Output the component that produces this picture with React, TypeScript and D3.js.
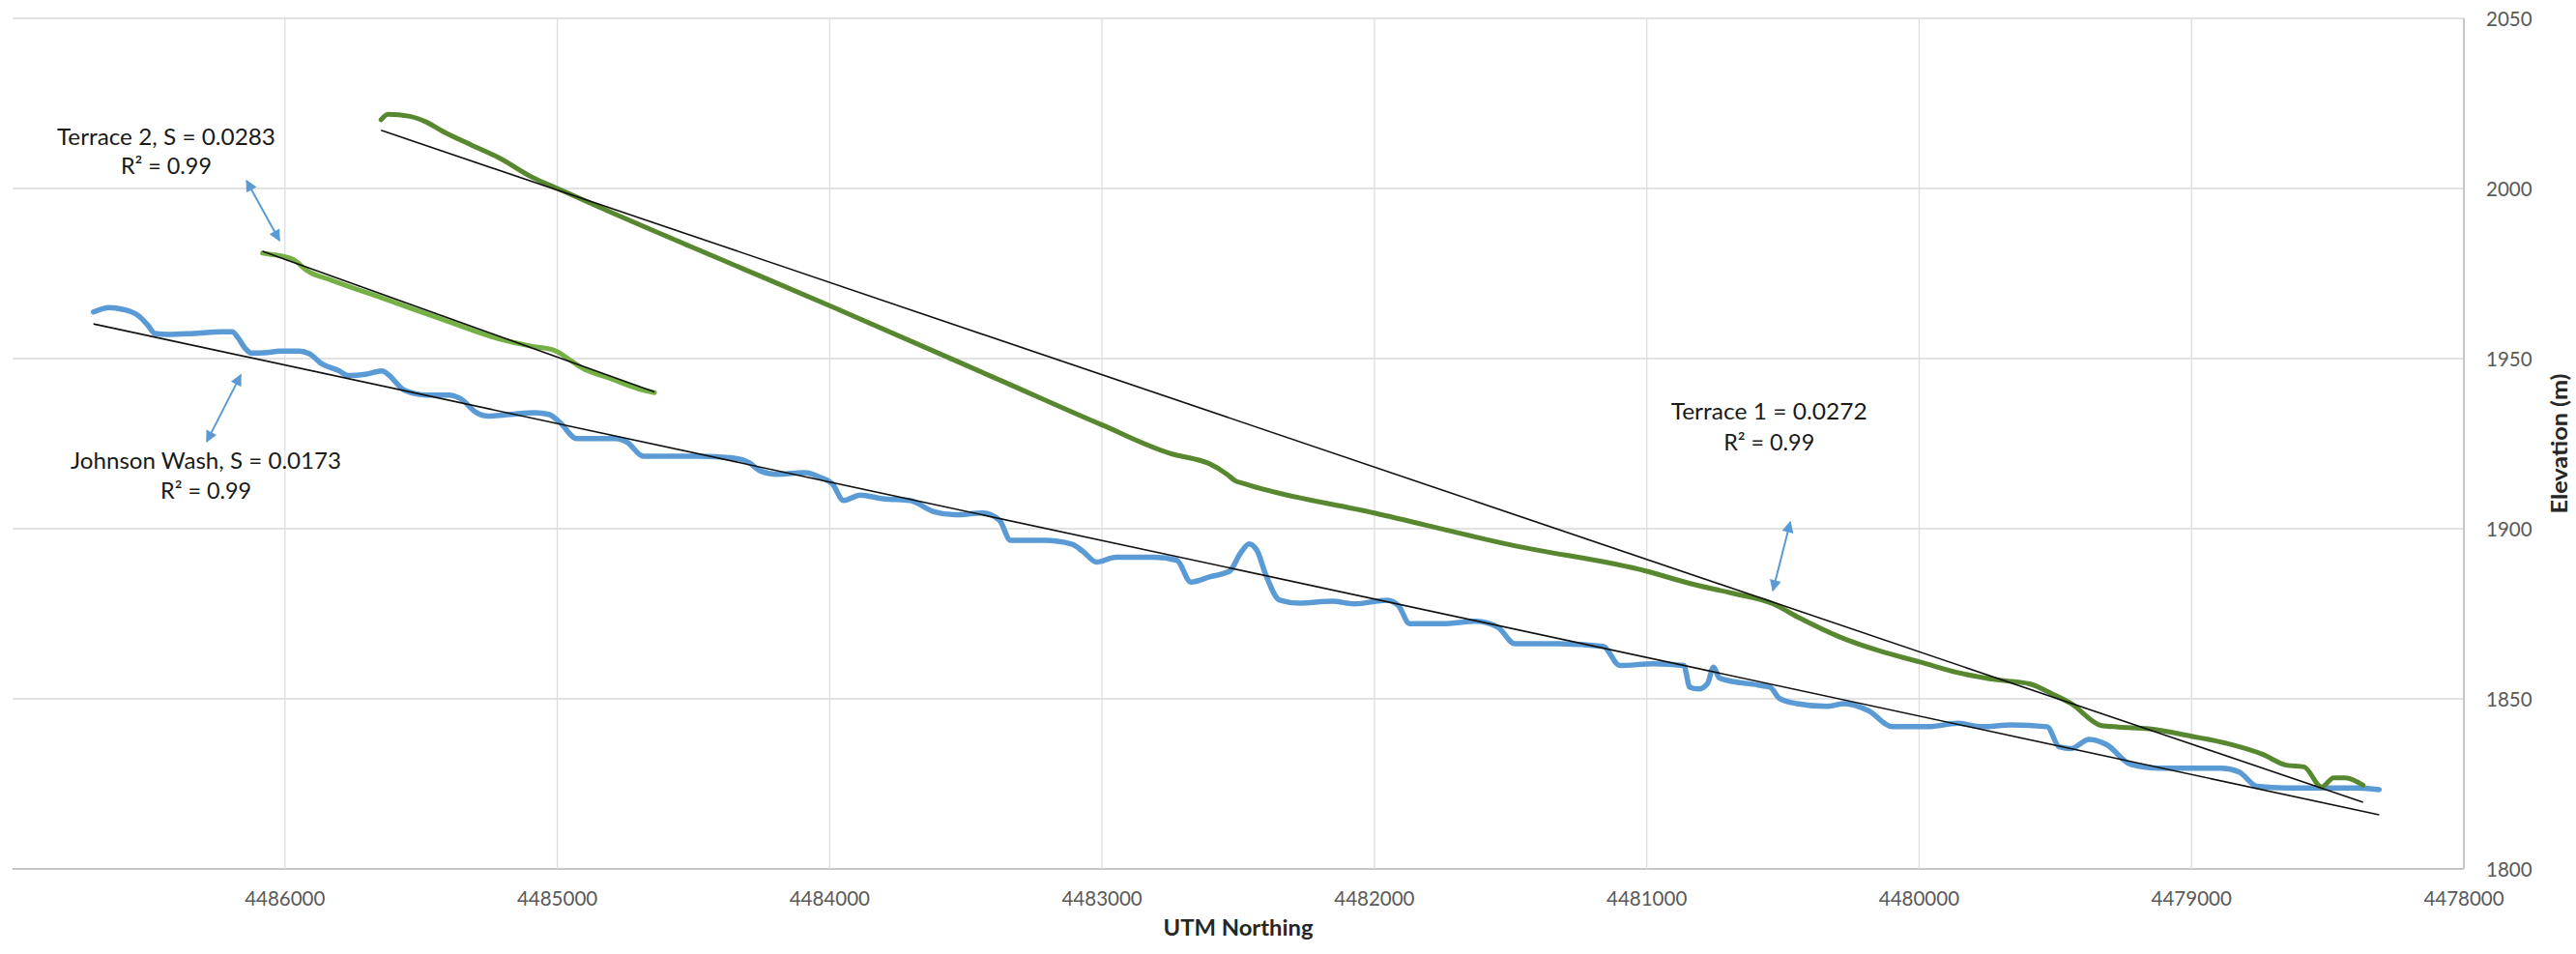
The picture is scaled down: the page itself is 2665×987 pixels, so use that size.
import React from "react";
import * as d3 from "d3";

const W = 2665;
const H = 987;
const M = { left: 13, right: 2549, top: 19, bottom: 899 };

const xDomain = [4487000, 4478000];
const yDomain = [1800, 2050];
const xTicks = [4486000, 4485000, 4484000, 4483000, 4482000, 4481000, 4480000, 4479000, 4478000];
const yTicks = [1800, 1850, 1900, 1950, 2000, 2050];

// Johnson Wash profile
const johnsonX = [
  4486703, 4486644, 4486597, 4486538, 4486502, 4486478, 4486431, 4486336, 4486230, 4486194,
  4486171, 4486147, 4486123, 4486076, 4486017, 4485946, 4485910, 4485863, 4485804, 4485765,
  4485704, 4485643, 4485622, 4485561, 4485480, 4485398, 4485357, 4485296, 4485255, 4485173,
  4485082, 4485031, 4484990, 4484929, 4484786, 4484745, 4484684, 4484602, 4484480, 4484357,
  4484296, 4484255, 4484194, 4484092, 4484031, 4483990, 4483949, 4483888, 4483804, 4483705,
  4483621, 4483541, 4483438, 4483377, 4483336, 4483214, 4483112, 4483071, 4483020, 4482949,
  4482807, 4482725, 4482674, 4482603, 4482532, 4482491, 4482460, 4482430, 4482399, 4482348,
  4482277, 4482155, 4482073, 4481953, 4481912, 4481871, 4481749, 4481627, 4481546, 4481485,
  4481322, 4481160, 4481099, 4480976, 4480864, 4480842, 4480810, 4480777, 4480755, 4480733,
  4480580, 4480547, 4480514, 4480449, 4480339, 4480274, 4480186, 4480098, 4479967, 4479858,
  4479770, 4479661, 4479530, 4479486, 4479442, 4479376, 4479311, 4479223, 4479114, 4479000,
  4478891, 4478825, 4478760, 4478650, 4478519, 4478388, 4478311,
];
const johnsonY = [
  1963.7, 1965.0, 1964.5, 1962.6, 1959.7, 1957.4, 1957.1, 1957.4, 1957.9, 1957.9,
  1956.0, 1953.1, 1951.6, 1951.7, 1952.2, 1952.2, 1951.4, 1948.4, 1946.5, 1945.0,
  1945.4, 1946.4, 1945.4, 1940.7, 1939.3, 1939.3, 1938.3, 1934.1, 1933.1, 1933.6,
  1934.1, 1933.6, 1931.2, 1926.5, 1926.5, 1925.5, 1921.3, 1921.3, 1921.3, 1920.8,
  1919.4, 1917.0, 1916.0, 1916.5, 1915.0, 1913.2, 1908.3, 1909.9, 1908.8, 1908.3,
  1905.1, 1904.1, 1904.6, 1902.5, 1896.6, 1896.6, 1895.5, 1893.4, 1890.2, 1891.6,
  1891.6, 1890.7, 1884.3, 1885.9, 1887.5, 1892.9, 1895.5, 1893.4, 1886.5, 1879.0,
  1878.1, 1878.7, 1877.9, 1879.0, 1877.4, 1872.1, 1872.1, 1872.8, 1871.0, 1866.2,
  1866.2, 1865.4, 1859.8, 1860.3, 1859.8, 1853.4, 1852.9, 1854.5, 1859.3, 1856.1,
  1853.9, 1853.4, 1850.2, 1848.6, 1847.8, 1848.6, 1846.5, 1841.8, 1841.8, 1842.8,
  1841.8, 1842.3, 1841.8, 1835.9, 1835.4, 1838.1, 1836.5, 1830.7, 1829.6, 1829.6,
  1829.6, 1828.5, 1824.3, 1823.8, 1823.8, 1823.8, 1823.3,
];

// Terrace 1 profile
const terrace1X = [
  4485647, 4485622, 4485541, 4485480, 4485418, 4485316, 4485214, 4485092, 4485000, 4484806,
  4484398, 4483990, 4483356, 4483000, 4482725, 4482660, 4482603, 4482541, 4482511, 4482481,
  4482000, 4481485, 4481000, 4480837, 4480689, 4480536, 4480438, 4480295, 4480142, 4480000,
  4479858, 4479705, 4479595, 4479508, 4479442, 4479333, 4479267, 4479155, 4479000, 4478870,
  4478739, 4478652, 4478587, 4478522, 4478478, 4478435, 4478370,
];
const terrace1Y = [
  2020.2, 2021.8, 2021.2, 2019.5, 2016.7, 2012.8, 2009.0, 2003.3, 2000.0, 1993.1,
  1979.1, 1965.2, 1943.0, 1930.5, 1921.6, 1920.5, 1919.0, 1916.0, 1914.1, 1913.3,
  1904.6, 1895.0, 1887.5, 1883.8, 1881.1, 1877.9, 1873.7, 1868.3, 1864.0, 1860.9,
  1857.7, 1855.5, 1854.4, 1851.3, 1848.6, 1842.2, 1841.7, 1841.2, 1839.0, 1836.9,
  1833.7, 1830.5, 1830.0, 1824.1, 1826.8, 1826.8, 1824.6,
];

// Terrace 2 profile
const terrace2X = [
  4486082, 4486051, 4486010, 4485969, 4485918, 4485827, 4485622, 4485418, 4485214, 4485092,
  4485010, 4484950, 4484908, 4484806, 4484704, 4484643,
];
const terrace2Y = [
  1981.0, 1980.6, 1980.1, 1979.1, 1975.8, 1973.0, 1967.2, 1961.4, 1955.8, 1953.6,
  1952.4, 1949.4, 1947.2, 1944.2, 1941.2, 1940.0,
];

// Linear fits
const johnsonTrendX = [4486703, 4478311];
const johnsonTrendY = [1960.2, 1815.9];
const terrace1TrendX = [4485647, 4478370];
const terrace1TrendY = [2017.1, 1819.6];
const terrace2TrendX = [4486082, 4484643];
const terrace2TrendY = [1981.5, 1940.2];

// Annotations (data coordinates)
const labelLines = [
  { x: 4486436, y: [2015.1, 2006.5], text: ["Terrace 2, S = 0.0283", "R\u00B2 = 0.99"], len: [226, 94] },
  { x: 4486290, y: [1920.0, 1911.2], text: ["Johnson Wash, S = 0.0173", "R\u00B2 = 0.99"], len: [280, 94] },
  { x: 4480551, y: [1934.4, 1925.3], text: ["Terrace 1 = 0.0272", "R\u00B2 = 0.99"], len: [203, 94] },
];
const arrowsData = [
  { x1: 4486141, y1: 2002.3, x2: 4486020, y2: 1984.7 },
  { x1: 4486162, y1: 1945.2, x2: 4486287, y2: 1925.6 },
  { x1: 4480473, y1: 1902.0, x2: 4480537, y2: 1881.8 },
];

const BLUE = "#5b9bd5";

export default function App() {
  const x = d3.scaleLinear().domain(xDomain).range([M.left, M.right]);
  const y = d3.scaleLinear().domain(yDomain).range([M.bottom, M.top]);

  const toPts = (xs: number[], ys: number[]) => xs.map((v, i) => [v, ys[i]] as [number, number]);
  const smooth = d3
    .line<[number, number]>()
    .x((d) => x(d[0]))
    .y((d) => y(d[1]))
    .curve(d3.curveMonotoneX);
  const straight = d3
    .line<[number, number]>()
    .x((d) => x(d[0]))
    .y((d) => y(d[1]));

  const tickFont = "Lato, 'Open Sans', sans-serif";

  return (
    <svg
      width={W}
      height={H}
      viewBox={`0 0 ${W} ${H}`}
      style={{ position: "absolute", left: 0, top: 0, display: "block", background: "#fff" }}
    >
      <defs>
        <marker
          id="ah"
          viewBox="0 0 10 10"
          refX="9"
          refY="5"
          markerWidth="14"
          markerHeight="12"
          markerUnits="userSpaceOnUse"
          orient="auto-start-reverse"
        >
          <path d="M0,0 L10,5 L0,10 z" fill={BLUE} />
        </marker>
      </defs>
      <rect x={0} y={0} width={W} height={H} fill="#fff" />

      {/* horizontal gridlines */}
      {yTicks.map((t) => (
        <line
          key={"hy" + t}
          x1={M.left}
          x2={M.right}
          y1={y(t)}
          y2={y(t)}
          stroke={t === 1800 ? "#c6c6c6" : "#d9d9d9"}
          strokeWidth={t === 1800 ? 2 : 1.5}
        />
      ))}
      {/* vertical gridlines */}
      {xTicks.map((t) => (
        <line
          key={"vx" + t}
          x1={x(t)}
          x2={x(t)}
          y1={M.top}
          y2={M.bottom}
          stroke={t === 4478000 ? "#c6c6c6" : "#dedede"}
          strokeWidth={t === 4478000 ? 2 : 1.3}
        />
      ))}

      {/* y tick labels */}
      {yTicks.map((t) => (
        <text
          key={"yl" + t}
          x={M.right + 23}
          y={y(t) + 7.5}
          fontFamily={tickFont}
          fontSize={20.5}
          fill="#595959"
        >
          {t}
        </text>
      ))}
      {/* x tick labels */}
      {xTicks.map((t) => (
        <text
          key={"xl" + t}
          x={x(t)}
          y={937}
          textAnchor="middle"
          fontFamily={tickFont}
          fontSize={20.5}
          fill="#595959"
        >
          {t}
        </text>
      ))}

      {/* axis titles */}
      <text
        x={(M.left + M.right) / 2}
        y={968}
        textAnchor="middle"
        fontFamily={tickFont}
        fontWeight="bold"
        fontSize={22}
        textLength={155}
        lengthAdjust="spacingAndGlyphs"
        fill="#262626"
      >
        UTM Northing
      </text>
      <text
        transform={`translate(2656, ${(M.top + M.bottom) / 2}) rotate(-90)`}
        textAnchor="middle"
        fontFamily={tickFont}
        fontWeight="bold"
        fontSize={22}
        textLength={145}
        lengthAdjust="spacingAndGlyphs"
        fill="#262626"
      >
        Elevation (m)
      </text>

      {/* series */}
      <path d={smooth(toPts(johnsonX, johnsonY)) || ""} fill="none" stroke={BLUE} strokeWidth={5.5} strokeLinejoin="round" strokeLinecap="round" />
      <path d={smooth(toPts(terrace2X, terrace2Y)) || ""} fill="none" stroke="#74b044" strokeWidth={5} strokeLinejoin="round" strokeLinecap="round" />
      <path d={smooth(toPts(terrace1X, terrace1Y)) || ""} fill="none" stroke="#57872e" strokeWidth={5} strokeLinejoin="round" strokeLinecap="round" />

      {/* trend lines */}
      <path d={straight(toPts(johnsonTrendX, johnsonTrendY)) || ""} fill="none" stroke="#111" strokeWidth={1.6} />
      <path d={straight(toPts(terrace1TrendX, terrace1TrendY)) || ""} fill="none" stroke="#111" strokeWidth={1.6} />
      <path d={straight(toPts(terrace2TrendX, terrace2TrendY)) || ""} fill="none" stroke="#111" strokeWidth={1.6} />

      {/* arrows */}
      {arrowsData.map((a, i) => (
        <line
          key={"ar" + i}
          x1={x(a.x1)}
          y1={y(a.y1)}
          x2={x(a.x2)}
          y2={y(a.y2)}
          stroke={BLUE}
          strokeWidth={2}
          markerStart="url(#ah)"
          markerEnd="url(#ah)"
        />
      ))}

      {/* annotation labels */}
      {labelLines.map((l, i) => (
        <g key={"lb" + i}>
          {l.text.map((t, j) => (
            <text
              key={j}
              x={x(l.x)}
              y={y(l.y[j]) + 8}
              textAnchor="middle"
              fontFamily={tickFont}
              fontSize={23}
              textLength={l.len[j]}
              lengthAdjust="spacingAndGlyphs"
              fill="#1a1a1a"
            >
              {t}
            </text>
          ))}
        </g>
      ))}
    </svg>
  );
}
